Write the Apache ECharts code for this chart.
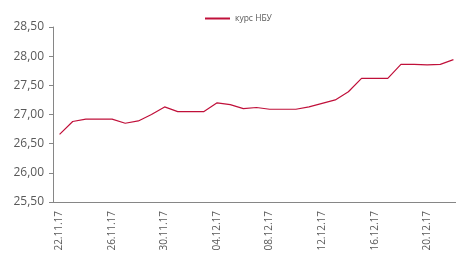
<!DOCTYPE html>
<html>
<head>
<meta charset="utf-8">
<title>курс НБУ</title>
<script src="https://cdn.jsdelivr.net/npm/echarts@6/dist/echarts.min.js"></script>
<style>
  html, body { margin: 0; padding: 0; background: #fff; }
  #chart { width: 456px; height: 257px; }
</style>
</head>
<body>
<div id="chart"></div>
<script>
// дати (щодня, 22.11.17 - 22.12.17)
var dates = [
  '22.11.17','23.11.17','24.11.17','25.11.17','26.11.17','27.11.17','28.11.17','29.11.17',
  '30.11.17','01.12.17','02.12.17','03.12.17','04.12.17','05.12.17','06.12.17','07.12.17',
  '08.12.17','09.12.17','10.12.17','11.12.17','12.12.17','13.12.17','14.12.17','15.12.17',
  '16.12.17','17.12.17','18.12.17','19.12.17','20.12.17','21.12.17','22.12.17'
];
// курс НБУ, грн/USD
var rate = [
  26.66, 26.88, 26.92, 26.92, 26.92, 26.85, 26.89, 27.00,
  27.13, 27.05, 27.05, 27.05, 27.20, 27.17, 27.10, 27.12,
  27.09, 27.09, 27.09, 27.13, 27.19, 27.25, 27.39, 27.62,
  27.62, 27.62, 27.86, 27.86, 27.85, 27.86, 27.94
];
var yMin = 25.5, yMax = 28.5, yStep = 0.5;

var myChart = echarts.init(document.getElementById('chart'));

var option = {
  animation: false,
  textStyle: { fontFamily: 'Open Sans' },
  legend: {
    top: 9,
    left: 200,
    itemWidth: 25,
    itemHeight: 2,
    itemGap: 4,
    textStyle: { fontSize: 8.5, color: '#595959' },
    data: [{ name: 'курс НБУ', icon: 'rect' }]
  },
  // графік обрізаний справа, тому вісь виходить за край
  grid: { left: 53, width: 407, top: 27, bottom: 55, outerBoundsMode: 'none' },
  xAxis: {
    type: 'category',
    data: dates,
    boundaryGap: true,
    axisLine: { lineStyle: { color: '#868686', width: 1 } },
    axisTick: { interval: 3, length: 4, lineStyle: { color: '#868686' } },
    axisLabel: {
      interval: 3,
      rotate: 90,
      fontSize: 10,
      color: '#595959',
      margin: 9
    }
  },
  yAxis: {
    type: 'value',
    min: yMin,
    max: yMax,
    interval: yStep,
    splitLine: { show: false },
    axisLine: { show: true, lineStyle: { color: '#868686', width: 1 } },
    axisTick: { show: true, length: 4, lineStyle: { color: '#868686' } },
    axisLabel: {
      fontSize: 12,
      color: '#595959',
      margin: 9,
      formatter: function (v) { return v.toFixed(2).replace('.', ','); }
    }
  },
  series: [
    {
      name: 'курс НБУ',
      type: 'line',
      data: rate,
      symbol: 'none',
      lineStyle: { color: '#c0103a', width: 1.2 },
      itemStyle: { color: '#c0103a' }
    }
  ]
};

myChart.setOption(option);
</script>
</body>
</html>
